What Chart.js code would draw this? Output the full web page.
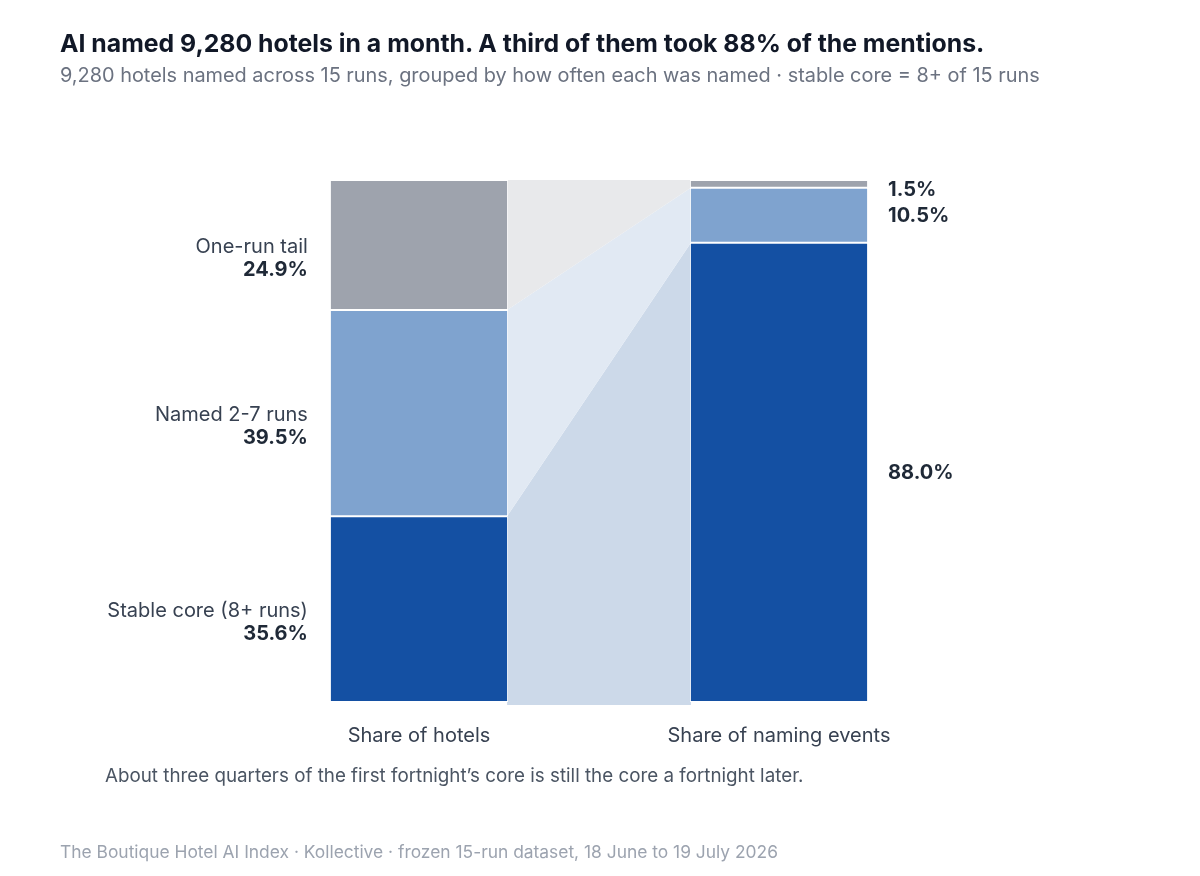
<!DOCTYPE html>
<html>
<head>
<meta charset="utf-8">
<script src="https://cdn.jsdelivr.net/npm/chart.js@4.4.1/dist/chart.umd.min.js"></script>
<style>
  html, body { margin: 0; padding: 0; background: #fff; }
  body { width: 1200px; height: 876px; position: relative; overflow: hidden; font-family: Inter, "Noto Sans", sans-serif; }
  #wrap { position: absolute; left: 0; top: 0; width: 1200px; height: 876px; }
  .txt { position: absolute; white-space: nowrap; line-height: 1; }
  #title { left: 60px; top: 31px; font-size: 24.8px; font-weight: 700; color: #111827; }
  #sub { left: 60px; top: 66px; font-size: 19.9px; color: #6b7280; }
  #note { left: 105px; top: 767px; font-size: 18.8px; color: #4b5563; }
  #foot { left: 60px; top: 843px; font-size: 17.4px; color: #9ca3af; }
</style>
</head>
<body>
<div id="wrap"><canvas id="chart" width="1200" height="876"></canvas></div>
<div class="txt" id="title">AI named 9,280 hotels in a month. A third of them took 88% of the mentions.</div>
<div class="txt" id="sub">9,280 hotels named across 15 runs, grouped by how often each was named · stable core = 8+ of 15 runs</div>
<div class="txt" id="note">About three quarters of the first fortnight’s core is still the core a fortnight later.</div>
<div class="txt" id="foot">The Boutique Hotel AI Index · Kollective · frozen 15-run dataset, 18 June to 19 July 2026</div>
<script>
// two columns, three groups stacked bottom to top
const columns = ["Share of hotels", "Share of naming events"];
const groups = ["Stable core (8+ runs)", "Named 2-7 runs", "One-run tail"];
const coreShare = [35.6, 88.0];
const midShare = [39.5, 10.5];
const tailShare = [24.9, 1.5];

const barColors = ["#1450a3", "#7fa3cf", "#9ea3ad"];
const flowColors = ["#ccd9e9", "#e1e9f3", "#e8e9eb"];
const labelFont = "Inter, 'Noto Sans', sans-serif";

// ribbons joining the two columns, drawn under the bars
const flowPlugin = {
  id: "flows",
  beforeDatasetsDraw(chart) {
    const ctx = chart.ctx;
    chart.data.datasets.forEach((ds, i) => {
      const meta = chart.getDatasetMeta(i);
      const a = meta.data[0], b = meta.data[1];
      const x1 = a.x + a.width / 2 - 1;
      const x2 = b.x - b.width / 2 + 1;
      const extra = i === 0 ? 3 : 0;
      ctx.save();
      ctx.fillStyle = flowColors[i];
      ctx.beginPath();
      ctx.moveTo(x1, a.y);
      ctx.lineTo(x2, b.y);
      ctx.lineTo(x2, b.base + extra);
      ctx.lineTo(x1, a.base + extra);
      ctx.closePath();
      ctx.fill();
      ctx.restore();
    });
  },
  afterDatasetsDraw(chart) {
    const ctx = chart.ctx;
    ctx.save();
    ctx.textBaseline = "middle";
    // left side: group name + share of hotels
    chart.data.datasets.forEach((ds, i) => {
      const el = chart.getDatasetMeta(i).data[0];
      const mid = (el.y + el.base) / 2;
      const x = el.x - el.width / 2 - 22;
      ctx.textAlign = "right";
      ctx.fillStyle = "#374151";
      ctx.font = "20px " + labelFont;
      ctx.fillText(groups[i], x, mid + 2);
      ctx.fillStyle = "#1f2937";
      ctx.font = "bold 20px " + labelFont;
      ctx.fillText(ds.data[0].toFixed(1) + "%", x, mid + 25);
    });
    // right side: share of naming events, placed top-down so small ones don't collide
    let prev = chart.chartArea.top - 14;
    for (let i = chart.data.datasets.length - 1; i >= 0; i--) {
      const ds = chart.data.datasets[i];
      const el = chart.getDatasetMeta(i).data[1];
      const y = Math.max((el.y + el.base) / 2 + 1, prev + 24);
      prev = y;
      ctx.textAlign = "left";
      ctx.fillStyle = "#1f2937";
      ctx.font = "bold 20px " + labelFont;
      ctx.fillText(ds.data[1].toFixed(1) + "%", el.x + el.width / 2 + 20, y);
    }
    ctx.restore();
  }
};

new Chart(document.getElementById("chart"), {
  type: "bar",
  data: {
    labels: columns,
    datasets: [
      { label: groups[0], data: coreShare, backgroundColor: barColors[0] },
      { label: groups[1], data: midShare, backgroundColor: barColors[1] },
      { label: groups[2], data: tailShare, backgroundColor: barColors[2] }
    ]
  },
  options: {
    responsive: false,
    animation: false,
    devicePixelRatio: 1,
    layout: { padding: { left: 239, right: 241, top: 180, bottom: 106 } },
    datasets: {
      bar: {
        categoryPercentage: 0.495,
        barPercentage: 1,
        borderColor: "#ffffff",
        borderWidth: 1,
        borderSkipped: false
      }
    },
    plugins: { legend: { display: false }, tooltip: { enabled: false } },
    scales: {
      x: {
        stacked: true,
        grid: { display: false, drawTicks: false },
        border: { display: false },
        ticks: { padding: 22, color: "#374151", font: { size: 20, family: labelFont } }
      },
      y: {
        stacked: true,
        display: false,
        min: 0,
        max: 100
      }
    }
  },
  plugins: [flowPlugin]
});
</script>
</body>
</html>
